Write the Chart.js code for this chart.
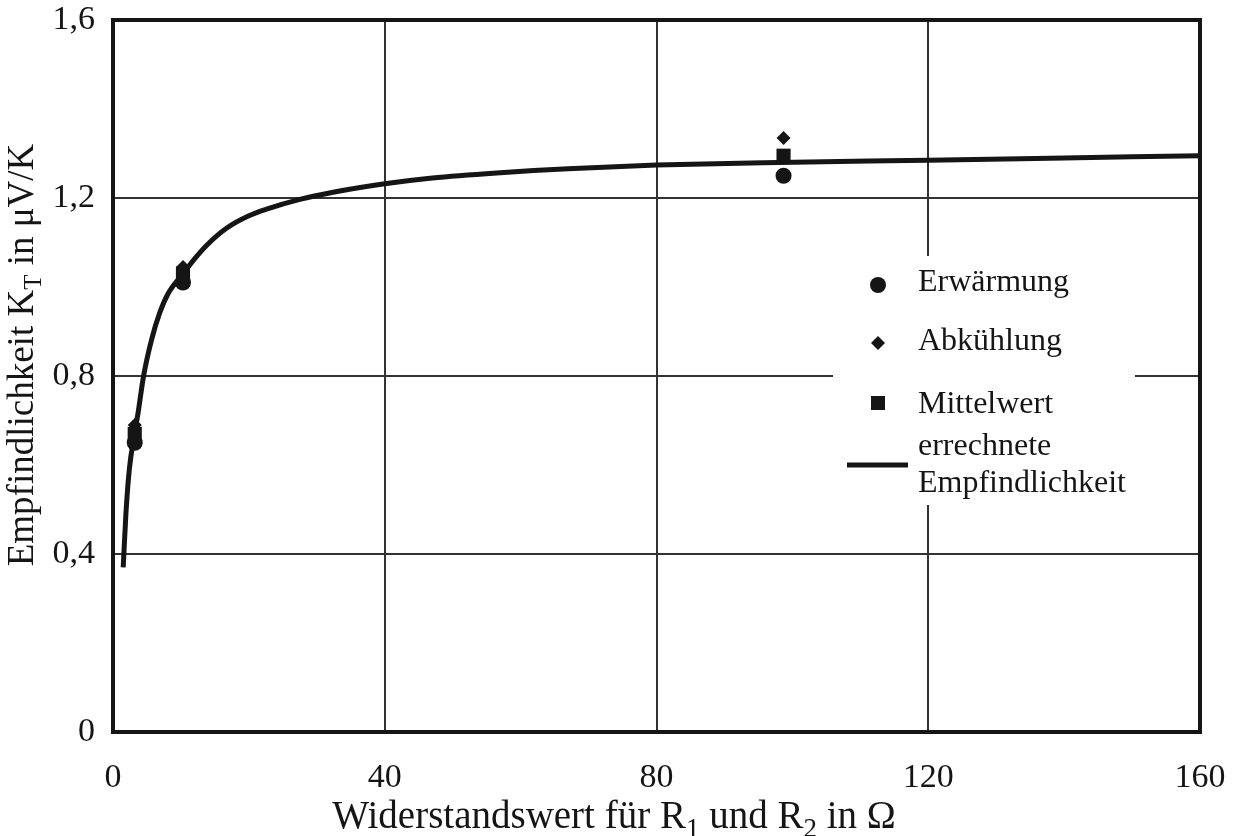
<!DOCTYPE html>
<html>
<head>
<meta charset="utf-8">
<title>Empfindlichkeit K_T</title>
<script src="https://cdn.jsdelivr.net/npm/chart.js@4.4.1/dist/chart.umd.min.js"></script>
<style>
  html, body { margin: 0; padding: 0; background: #fff; }
</style>
</head>
<body>
<canvas id="chart" width="1233" height="836"></canvas>
<script>
'use strict';

// --- Daten ----------------------------------------------------------------

// Messpunkte: Widerstand R1 = R2 in Ohm
const R_MESS = [3.2, 10.3, 98.7];
const ERWAERMUNG = [0.65, 1.01, 1.25];
const ABKUEHLUNG = [0.69, 1.045, 1.335];
const MITTELWERT = [0.67, 1.03, 1.295];

// errechnete Empfindlichkeit (Kurve)
const R_KURVE = [1.5, 1.9, 2.4, 3.2, 3.7, 4.5, 5.7, 6.9, 8.1, 10.3, 12.1, 13.8, 16.7, 20,
  22.6, 27.5, 32.4, 40, 47, 57, 67, 80, 98, 120, 140, 160];
const K_KURVE = [0.37, 0.49, 0.59, 0.673, 0.718, 0.80, 0.883, 0.943, 0.985, 1.030, 1.065, 1.094, 1.132, 1.160,
  1.175, 1.197, 1.213, 1.232, 1.245, 1.257, 1.266, 1.274, 1.280, 1.285, 1.290, 1.295];

const X_TICKS = [0, 40, 80, 120, 160];
const Y_TICKS = [0, 0.4, 0.8, 1.2, 1.6];

const LEGENDE = ['Erwärmung', 'Abkühlung', 'Mittelwert', ['errechnete', 'Empfindlichkeit']];

const FONT = '"Liberation Serif", "Times New Roman", serif';
const INK = '#151515';

// --- Helpers --------------------------------------------------------------

function toPoints(xs, ys) {
  return xs.map((x, i) => ({ x, y: ys[i] }));
}

function fmtY(v) {
  return v === 0 ? '0' : v.toFixed(1).replace('.', ',');
}

// Text mit Tiefstellungen: parts = [[text, sub?], ...]
function drawRich(ctx, parts, x, y, size) {
  const subSize = Math.round(size * 0.68);
  let total = 0;
  parts.forEach(([t, sub]) => {
    ctx.font = `${sub ? subSize : size}px ${FONT}`;
    total += ctx.measureText(t).width;
  });
  let cx = x - total / 2;
  ctx.textAlign = 'left';
  ctx.textBaseline = 'alphabetic';
  parts.forEach(([t, sub]) => {
    ctx.font = `${sub ? subSize : size}px ${FONT}`;
    ctx.fillText(t, cx, sub ? y + size * 0.22 : y);
    cx += ctx.measureText(t).width;
  });
}

// Ueberstand der Achsenbeschriftung nicht in das Layout einrechnen
function noOverflow(s) {
  s.paddingTop = 0;
  s.paddingBottom = 0;
  s.paddingLeft = 0;
  s.paddingRight = 0;
}

// --- Plugins --------------------------------------------------------------

const rahmenUndLegende = {
  id: 'rahmenUndLegende',
  beforeDatasetsDraw(chart) {
    const { ctx, chartArea: a } = chart;
    ctx.save();

    // Legendenfeld (verdeckt das Gitter)
    const lx = 833, ly = 256, lw = 302, lh = 249;
    ctx.fillStyle = '#fff';
    ctx.fillRect(lx, ly, lw, lh);

    ctx.fillStyle = INK;
    ctx.strokeStyle = INK;
    const mx = 878, tx = 918;
    ctx.font = `32px ${FONT}`;
    ctx.textAlign = 'left';
    ctx.textBaseline = 'middle';

    // Kreis
    ctx.beginPath();
    ctx.arc(mx, 285, 8, 0, Math.PI * 2);
    ctx.fill();
    ctx.fillText(LEGENDE[0], tx, 283);

    // Raute
    ctx.beginPath();
    ctx.moveTo(mx, 336); ctx.lineTo(mx + 7, 343); ctx.lineTo(mx, 350); ctx.lineTo(mx - 7, 343);
    ctx.closePath();
    ctx.fill();
    ctx.fillText(LEGENDE[1], tx, 342);

    // Quadrat
    ctx.fillRect(mx - 7, 396, 14, 14);
    ctx.fillText(LEGENDE[2], tx, 405);

    // Linie
    ctx.lineWidth = 5;
    ctx.beginPath();
    ctx.moveTo(847, 465); ctx.lineTo(908, 465);
    ctx.stroke();
    ctx.fillText(LEGENDE[3][0], tx, 447);
    ctx.fillText(LEGENDE[3][1], tx, 484);

    // Rahmen
    ctx.lineWidth = 4;
    ctx.strokeRect(a.left, a.top, a.right - a.left, a.bottom - a.top);
    ctx.restore();
  },
  afterDraw(chart) {
    const { ctx } = chart;
    ctx.save();
    ctx.fillStyle = INK;
    // x-Achsentitel
    drawRich(ctx, [['Widerstandswert für R'], ['1', true], [' und R'], ['2', true], [' in Ω']],
      614, 828, 39);
    // y-Achsentitel
    ctx.translate(33, 355);
    ctx.rotate(-Math.PI / 2);
    drawRich(ctx, [['Empfindlichkeit K'], ['T', true], [' in μV/K']], 0, 0, 37);
    ctx.restore();
  },
};

// --- Chart ----------------------------------------------------------------

const punkt = (label, ys, style, radius) => ({
  type: 'scatter',
  label,
  data: toPoints(R_MESS, ys),
  pointStyle: style,
  pointRadius: radius,
  pointBackgroundColor: INK,
  pointBorderColor: INK,
  pointBorderWidth: 0,
});

new Chart(document.getElementById('chart'), {
  type: 'scatter',
  data: {
    datasets: [
      {
        label: 'errechnete Empfindlichkeit',
        data: toPoints(R_KURVE, K_KURVE),
        showLine: true,
        borderColor: INK,
        borderWidth: 5,
        pointRadius: 0,
        cubicInterpolationMode: 'monotone',
        borderCapStyle: 'butt',
      },
      punkt('Erwärmung', ERWAERMUNG, 'circle', 8),
      punkt('Abkühlung', ABKUEHLUNG, 'rectRot', 7),
      punkt('Mittelwert', MITTELWERT, 'rect', 10),
    ],
  },
  options: {
    responsive: false,
    animation: false,
    devicePixelRatio: 1,
    layout: { padding: { left: 0, right: 33, top: 20, bottom: 0 } },
    plugins: {
      legend: { display: false },
      tooltip: { enabled: false },
    },
    scales: {
      x: {
        type: 'linear',
        min: 0,
        max: 160,
        afterBuildTicks: (s) => { s.ticks = X_TICKS.map((v) => ({ value: v })); },
        afterFit: (s) => { s.height = 104; noOverflow(s); },
        ticks: {
          padding: 26,
          color: INK,
          font: { family: FONT, size: 34 },
          maxRotation: 0,
        },
        grid: { color: '#333', lineWidth: 2, drawTicks: false },
        border: { display: false },
      },
      y: {
        type: 'linear',
        min: 0,
        max: 1.6,
        afterBuildTicks: (s) => { s.ticks = Y_TICKS.map((v) => ({ value: v })); },
        afterFit: (s) => { s.width = 113; noOverflow(s); },
        ticks: {
          padding: 18,
          color: INK,
          font: { family: FONT, size: 34 },
          callback: (v) => fmtY(v),
        },
        grid: { color: '#333', lineWidth: 2, drawTicks: false },
        border: { display: false },
      },
    },
  },
  plugins: [rahmenUndLegende],
});
</script>
</body>
</html>
